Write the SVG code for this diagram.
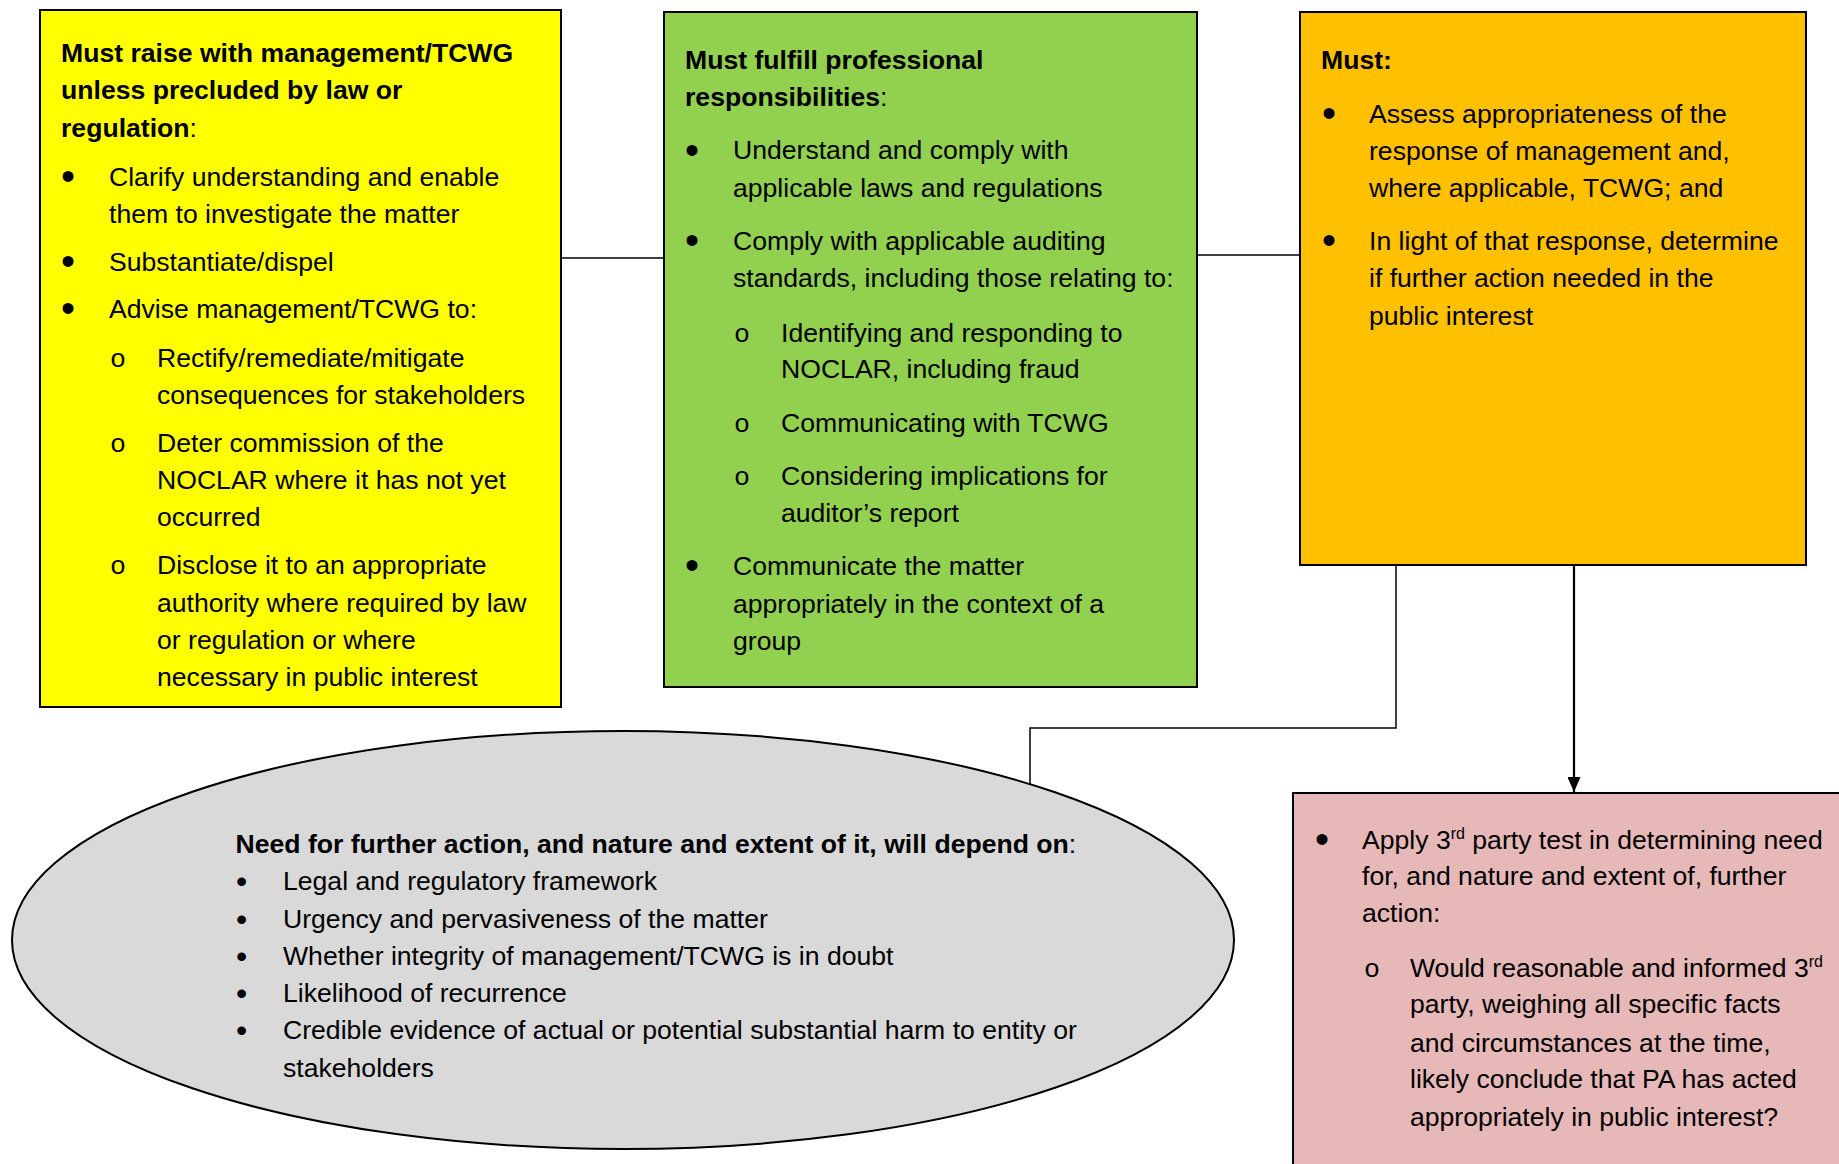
<svg xmlns="http://www.w3.org/2000/svg" width="1839" height="1164" viewBox="0 0 1839 1164">
<defs>
<style>
text{font-family:"Liberation Sans",Arial,sans-serif;font-size:26.6px;fill:#000}
.b{font-weight:bold}
.bu{font-size:40px}
.bs{font-size:32px}
.o{font-family:"Liberation Mono","Courier New",monospace;font-size:26.6px}
.sup{font-size:16px}
.box{stroke:#000;stroke-width:2}
.conn{fill:none;stroke:#000;stroke-width:1.5}
</style>
<marker id="arr" viewBox="0 0 15 13" refX="15" refY="6.5" markerWidth="15" markerHeight="13" markerUnits="userSpaceOnUse" orient="auto">
<path d="M0,0 L15,6.5 L0,13 Z" fill="#000"/>
</marker>
</defs>
<rect width="1839" height="1164" fill="#fff"/>

<g id="connectors">
<line class="conn" x1="561" y1="258" x2="664" y2="258"/>
<line class="conn" x1="1197" y1="255" x2="1300" y2="255"/>
<polyline class="conn" points="1396,565 1396,728 1030,728 1030,785"/>
<line x1="1574" y1="565" x2="1574" y2="792" stroke="#000" stroke-width="2.2" marker-end="url(#arr)"/>
</g>

<g id="node-raise">
<rect class="box" x="40" y="10" width="521" height="697" fill="#ffff00"/>
<text class="b" x="61" y="62">Must raise with management/TCWG</text>
<text class="b" x="61" y="99.4">unless precluded by law or</text>
<text x="61" y="136.8"><tspan class="b">regulation</tspan>:</text>
<text class="bu" x="61" y="190.4">•</text>
<text x="109" y="186">Clarify understanding and enable</text>
<text x="109" y="222.7">them to investigate the matter</text>
<text class="bu" x="61" y="275.4">•</text>
<text x="109" y="271">Substantiate/dispel</text>
<text class="bu" x="61" y="322.4">•</text>
<text x="109" y="318">Advise management/TCWG to:</text>
<text class="o" x="110" y="367">o</text>
<text x="157" y="367">Rectify/remediate/mitigate</text>
<text x="157" y="404">consequences for stakeholders</text>
<text class="o" x="110" y="452">o</text>
<text x="157" y="452">Deter commission of the</text>
<text x="157" y="489.4">NOCLAR where it has not yet</text>
<text x="157" y="526">occurred</text>
<text class="o" x="110" y="574">o</text>
<text x="157" y="574">Disclose it to an appropriate</text>
<text x="157" y="612">authority where required by law</text>
<text x="157" y="649">or regulation or where</text>
<text x="157" y="686">necessary in public interest</text>
</g>

<g id="node-fulfill">
<rect class="box" x="664" y="12" width="533" height="675" fill="#92d050"/>
<text class="b" x="685" y="69">Must fulfill professional</text>
<text x="685" y="106"><tspan class="b">responsibilities</tspan>:</text>
<text class="bu" x="685" y="163.7">•</text>
<text x="733" y="159.3">Understand and comply with</text>
<text x="733" y="197">applicable laws and regulations</text>
<text class="bu" x="685" y="254.4">•</text>
<text x="733" y="250">Comply with applicable auditing</text>
<text x="733" y="287">standards, including those relating to:</text>
<text class="o" x="734" y="342">o</text>
<text x="781" y="342">Identifying and responding to</text>
<text x="781" y="378">NOCLAR, including fraud</text>
<text class="o" x="734" y="431.6">o</text>
<text x="781" y="431.6">Communicating with TCWG</text>
<text class="o" x="734" y="485">o</text>
<text x="781" y="485">Considering implications for</text>
<text x="781" y="522">auditor’s report</text>
<text class="bu" x="685" y="579.4">•</text>
<text x="733" y="575">Communicate the matter</text>
<text x="733" y="613">appropriately in the context of a</text>
<text x="733" y="650">group</text>
</g>

<g id="node-must">
<rect class="box" x="1300" y="12" width="506" height="553" fill="#ffc000"/>
<text class="b" x="1321" y="69">Must:</text>
<text class="bu" x="1322" y="127.4">•</text>
<text x="1369" y="123">Assess appropriateness of the</text>
<text x="1369" y="160">response of management and,</text>
<text x="1369" y="197">where applicable, TCWG; and</text>
<text class="bu" x="1322" y="254.4">•</text>
<text x="1369" y="250">In light of that response, determine</text>
<text x="1369" y="287">if further action needed in the</text>
<text x="1369" y="325">public interest</text>
</g>

<g id="node-depend">
<ellipse class="box" cx="623" cy="940" rx="611" ry="209" fill="#d9d9d9"/>
<text x="235.5" y="853"><tspan class="b">Need for further action, and nature and extent of it, will depend on</tspan>:</text>
<text class="bs" x="236" y="892">•</text>
<text x="283" y="890">Legal and regulatory framework</text>
<text class="bs" x="236" y="930">•</text>
<text x="283" y="928">Urgency and pervasiveness of the matter</text>
<text class="bs" x="236" y="967">•</text>
<text x="283" y="965">Whether integrity of management/TCWG is in doubt</text>
<text class="bs" x="236" y="1004">•</text>
<text x="283" y="1002">Likelihood of recurrence</text>
<text class="bs" x="236" y="1041">•</text>
<text x="283" y="1039">Credible evidence of actual or potential substantial harm to entity or</text>
<text x="283" y="1077">stakeholders</text>
</g>

<g id="node-test">
<rect class="box" x="1293" y="793" width="560" height="390" fill="#e6b8b7"/>
<text class="bu" x="1315" y="853.4">•</text>
<text x="1362" y="849">Apply 3<tspan class="sup" dy="-10">rd</tspan><tspan dy="10"> party test in determining need</tspan></text>
<text x="1362" y="885">for, and nature and extent of, further</text>
<text x="1362" y="922">action:</text>
<text class="o" x="1364" y="977">o</text>
<text x="1410" y="977">Would reasonable and informed 3<tspan class="sup" dy="-10">rd</tspan></text>
<text x="1410" y="1013">party, weighing all specific facts</text>
<text x="1410" y="1052">and circumstances at the time,</text>
<text x="1410" y="1088">likely conclude that PA has acted</text>
<text x="1410" y="1126">appropriately in public interest?</text>
</g>
</svg>
